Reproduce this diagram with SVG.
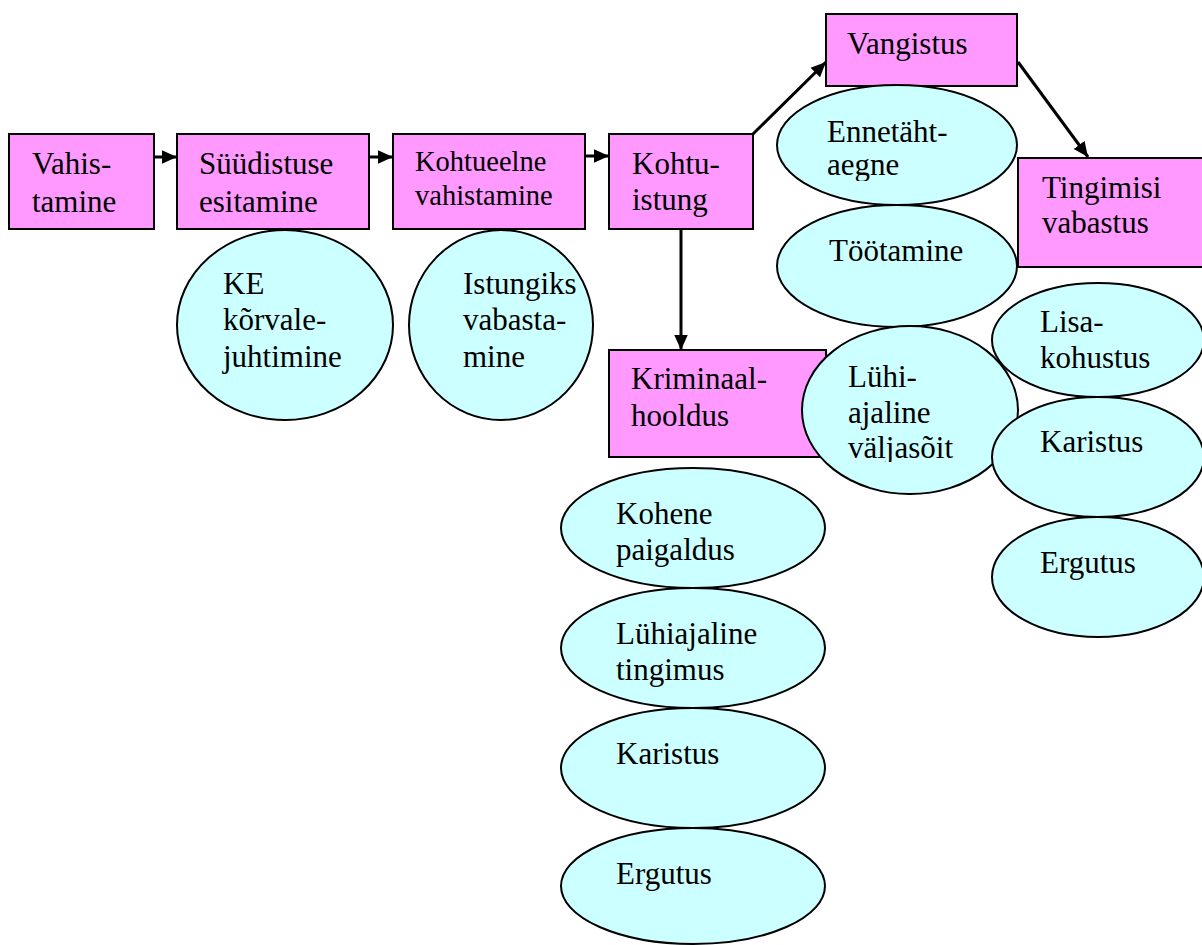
<svg xmlns="http://www.w3.org/2000/svg" width="1202" height="945" viewBox="0 0 1202 945">
<style>
.box{fill:#FF99FF;stroke:#000;stroke-width:2}
.ell{fill:#CCFFFF;stroke:#000;stroke-width:2}
.t{font-family:"Liberation Serif","Times New Roman",serif;font-size:31px;fill:#000}
.s{font-size:28.5px}
.c{stroke:#000;stroke-width:3;fill:none;marker-end:url(#ah)}
</style>
<defs>
<marker id="ah" viewBox="0 0 10 10" refX="10" refY="5" markerWidth="5" markerHeight="5" markerUnits="strokeWidth" orient="auto">
<path d="M0,0.5 L10,5 L0,9.5 z" fill="#000"/>
</marker>
<clipPath id="clipA"><rect x="800" y="90" width="200" height="91"/></clipPath>
<clipPath id="clipB"><rect x="830" y="340" width="180" height="122"/></clipPath>
</defs>
<rect width="1202" height="945" fill="#fff"/>
<g id="connectors">
<line class="c" x1="154" y1="157" x2="177" y2="157"/>
<line class="c" x1="369" y1="157" x2="393" y2="157"/>
<line class="c" x1="585" y1="156" x2="609" y2="156"/>
<line class="c" x1="753" y1="134" x2="826" y2="62"/>
<line class="c" x1="1018" y1="62" x2="1088" y2="157"/>
<line class="c" x1="681" y1="229" x2="681" y2="350"/>
</g>
<g id="n-vahistamine"><rect class="box" x="9" y="134" width="145" height="95"/><text class="t" x="32" y="174">Vahis-</text><text class="t" x="32" y="212">tamine</text></g>
<g id="n-syydistus"><rect class="box" x="177" y="134" width="192" height="95"/><text class="t" x="199" y="174">Süüdistuse</text><text class="t" x="199" y="212">esitamine</text></g>
<g id="n-kohtueelne"><rect class="box" x="393" y="134" width="192" height="95"/><text class="t s" x="415" y="171">Kohtueelne</text><text class="t s" x="415" y="205">vahistamine</text></g>
<g id="n-kohtuistung"><rect class="box" x="609" y="134" width="144" height="95"/><text class="t" x="632" y="174">Kohtu-</text><text class="t" x="632" y="210">istung</text></g>
<g id="n-vangistus"><rect class="box" x="826" y="14" width="191" height="72"/><text class="t" x="847" y="54">Vangistus</text></g>
<g id="n-tingimisi"><rect class="box" x="1018" y="158" width="200" height="109"/><text class="t" x="1042" y="198">Tingimisi</text><text class="t" x="1042" y="233">vabastus</text></g>
<g id="n-kriminaal"><rect class="box" x="609" y="350" width="217" height="107"/><text class="t" x="631" y="389">Kriminaal-</text><text class="t" x="631" y="426">hooldus</text></g>
<g id="n-ke"><ellipse class="ell" cx="285" cy="325" rx="108" ry="95"/><text class="t" x="223" y="294">KE</text><text class="t" x="223" y="330">kõrvale-</text><text class="t" x="223" y="367">juhtimine</text></g>
<g id="n-istungiks"><ellipse class="ell" cx="501" cy="325" rx="92" ry="95"/><text class="t" x="463" y="294">Istungiks</text><text class="t" x="463" y="330">vabasta-</text><text class="t" x="463" y="367">mine</text></g>
<g id="n-ennetaht"><ellipse class="ell" cx="897" cy="145" rx="120" ry="60"/><g clip-path="url(#clipA)"><text class="t" x="827" y="142">Ennetäht-</text><text class="t" x="827" y="175">aegne</text></g></g>
<g id="n-tootamine"><ellipse class="ell" cx="897" cy="266" rx="120" ry="61"/><text class="t" x="829" y="261">Töötamine</text></g>
<g id="n-lyhivalja"><ellipse class="ell" cx="910" cy="410" rx="108" ry="84"/><g clip-path="url(#clipB)"><text class="t" x="848" y="387">Lühi-</text><text class="t" x="848" y="423">ajaline</text><text class="t" x="848" y="458">väljasõit</text></g></g>
<g id="n-lisa"><ellipse class="ell" cx="1098" cy="340" rx="106" ry="57"/><text class="t" x="1040" y="332">Lisa-</text><text class="t" x="1040" y="368">kohustus</text></g>
<g id="n-karistus2"><ellipse class="ell" cx="1098" cy="457" rx="106" ry="60"/><text class="t" x="1040" y="452">Karistus</text></g>
<g id="n-ergutus2"><ellipse class="ell" cx="1098" cy="577" rx="106" ry="60"/><text class="t" x="1040" y="573">Ergutus</text></g>
<g id="n-kohene"><ellipse class="ell" cx="693" cy="528" rx="132" ry="60"/><text class="t" x="616" y="524">Kohene</text><text class="t" x="616" y="560">paigaldus</text></g>
<g id="n-lyhitingimus"><ellipse class="ell" cx="693" cy="648" rx="132" ry="60"/><text class="t" x="616" y="644">Lühiajaline</text><text class="t" x="616" y="680">tingimus</text></g>
<g id="n-karistus1"><ellipse class="ell" cx="693" cy="768" rx="132" ry="60"/><text class="t" x="616" y="764">Karistus</text></g>
<g id="n-ergutus1"><ellipse class="ell" cx="693" cy="886" rx="132" ry="58"/><text class="t" x="616" y="884">Ergutus</text></g>
</svg>
